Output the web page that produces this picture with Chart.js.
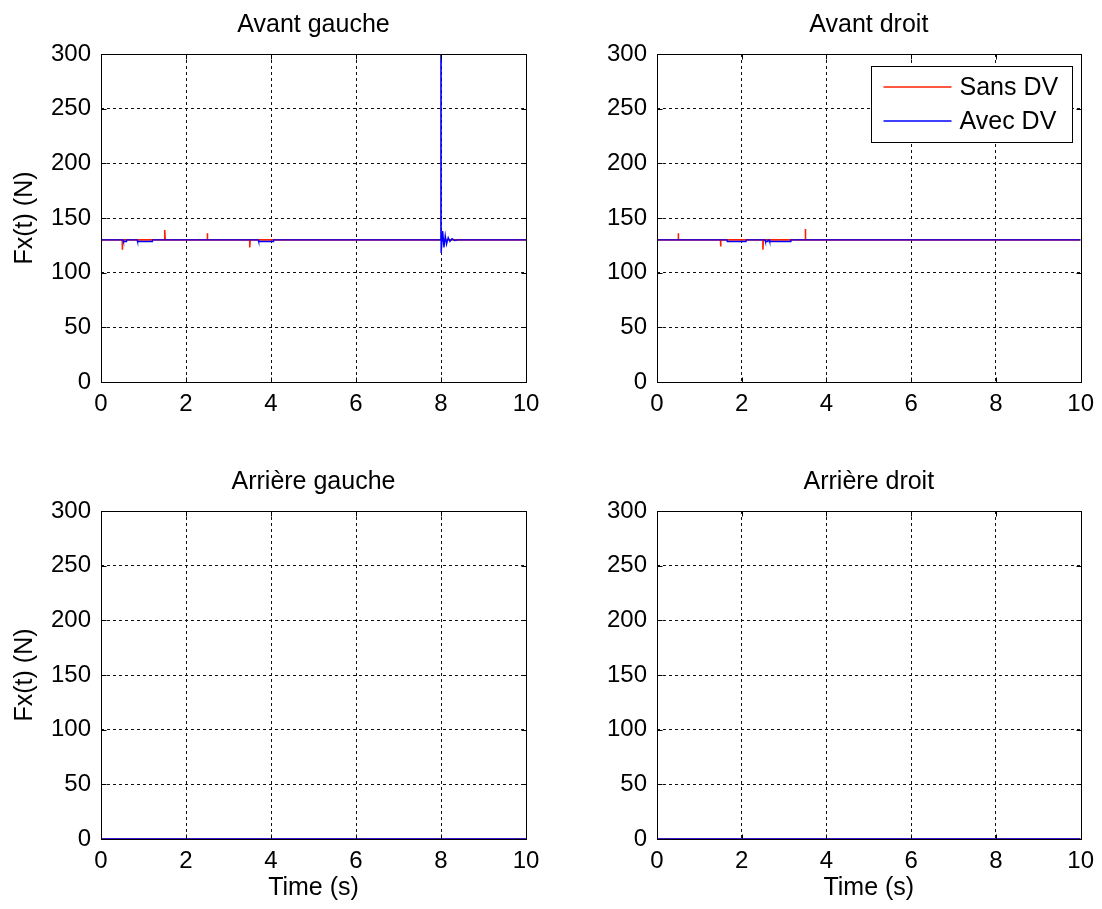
<!DOCTYPE html>
<html>
<head>
<meta charset="utf-8">
<script src="https://cdn.jsdelivr.net/npm/chart.js@4.4.1/dist/chart.umd.min.js"></script>
<style>
  html, body { margin: 0; padding: 0; background: #fff; }
  .panel { position: absolute; }
</style>
</head>
<body>
<div class="panel" style="left:0;top:0"><canvas id="avantGauche" width="551" height="454"></canvas></div>
<div class="panel" style="left:551px;top:0"><canvas id="avantDroit" width="551" height="454"></canvas></div>
<div class="panel" style="left:0;top:454px"><canvas id="arriereGauche" width="551" height="455"></canvas></div>
<div class="panel" style="left:551px;top:454px"><canvas id="arriereDroit" width="551" height="455"></canvas></div>
<script>
// axis ticks
const timeTicks = [0, 2, 4, 6, 8, 10];
const forceTicks = [0, 50, 100, 150, 200, 250, 300];
const seriesLabels = ["Sans DV", "Avec DV"];

// Avant gauche
const agSansT = [0, 0.5, 0.5, 0.51, 1.5, 1.5, 1.51, 2.5, 2.5, 2.51, 3.5, 3.5, 3.51, 10];
const agSansF = [130, 130, 121, 130, 130, 139, 130, 130, 136, 130, 130, 123, 130, 130];
const agAvecT = [0, 0.52, 0.53, 0.59, 0.6, 0.85, 0.86, 1.2, 1.21, 3.7, 3.71, 4.05, 4.06, 7.997, 8.0, 8.003, 8.04, 8.07, 8.1, 8.13, 8.17, 8.21, 8.26, 8.32, 8.4, 10];
const agAvecF = [130, 130, 128.5, 128.5, 130, 130, 128.5, 128.5, 130, 130, 128.5, 128.5, 130, 130, 1000, 118, 138, 123, 134, 126, 132, 128.5, 131, 129.5, 130, 130];

// Avant droit
const adSansT = [0, 0.5, 0.5, 0.51, 1.5, 1.5, 1.51, 2.5, 2.5, 2.51, 3.5, 3.5, 3.51, 10];
const adSansF = [130, 130, 136, 130, 130, 124, 130, 130, 121, 130, 130, 140, 130, 130];
const adAvecT = [0, 1.65, 1.66, 2.1, 2.11, 2.55, 2.56, 2.61, 2.62, 2.65, 2.66, 3.15, 3.16, 10];
const adAvecF = [130, 130, 128.5, 128.5, 130, 130, 128.5, 128.5, 130, 130, 128.5, 128.5, 130, 130];

// Arrière gauche / Arrière droit
const arSansT = [0, 10];
const arSansF = [0, 0];
const arAvecT = [0, 10];
const arAvecF = [0, 0];

const FONT = "'Liberation Sans', Arial, sans-serif";
const seriesColors = ["#ff2000", "#0000ff"];

function points(t, f) {
  return t.map((x, i) => ({ x, y: f[i] }));
}

// hide the grid line on the box edges, the frame plugin draws those solid
function gridColor(ctx) {
  const v = ctx.tick && ctx.tick.value;
  const s = ctx.scale;
  if (v === s.min || v === s.max) return "rgba(0,0,0,0)";
  return "#111";
}

// MATLAB style box with inward tick marks
const framePlugin = {
  id: "frame",
  afterDatasetsDraw(chart) {
    const { ctx, chartArea: a, scales } = chart;
    const L = Math.round(a.left) + 0.5, R = Math.round(a.right) + 0.5;
    const T = Math.round(a.top) + 0.5, B = Math.round(a.bottom) + 0.5;
    ctx.save();
    ctx.strokeStyle = "#000";
    ctx.lineWidth = 1;
    ctx.setLineDash([]);
    ctx.strokeRect(L, T, R - L, B - T);
    ctx.beginPath();
    scales.x.ticks.forEach((t) => {
      const px = Math.round(scales.x.getPixelForValue(t.value)) + 0.5;
      ctx.moveTo(px, B); ctx.lineTo(px, B - 5);
      ctx.moveTo(px, T); ctx.lineTo(px, T + 5);
    });
    scales.y.ticks.forEach((t) => {
      const py = Math.round(scales.y.getPixelForValue(t.value)) + 0.5;
      ctx.moveTo(L, py); ctx.lineTo(L + 5, py);
      ctx.moveTo(R, py); ctx.lineTo(R - 5, py);
    });
    ctx.stroke();
    ctx.restore();
  },
};

// boxed legend inside the top right corner
const boxLegendPlugin = {
  id: "boxLegend",
  afterDraw(chart, args, opts) {
    if (!opts.show) return;
    const { ctx, chartArea: a } = chart;
    const w = 201, h = 76;
    const left = Math.round(a.right - 9 - w) + 0.5;
    const top = Math.round(a.top + 12) + 0.5;
    ctx.save();
    ctx.setLineDash([]);
    ctx.fillStyle = "#fff";
    ctx.fillRect(left, top, w, h);
    ctx.strokeStyle = "#000";
    ctx.lineWidth = 1;
    ctx.strokeRect(left, top, w, h);
    ctx.font = "25px " + FONT;
    ctx.textBaseline = "middle";
    seriesLabels.forEach((label, i) => {
      const y = Math.round(top + 20 + i * 34);
      ctx.strokeStyle = seriesColors[i];
      ctx.lineWidth = 1.5;
      ctx.beginPath();
      ctx.moveTo(left + 12, y);
      ctx.lineTo(left + 80, y);
      ctx.stroke();
      ctx.fillStyle = "#000";
      ctx.fillText(label, left + 88, y + 1);
    });
    ctx.restore();
  },
};

function makePanel(id, title, sansT, sansF, avecT, avecF, o) {
  return new Chart(document.getElementById(id), {
    type: "line",
    data: {
      datasets: [
        { label: seriesLabels[0], data: points(sansT, sansF), borderColor: seriesColors[0], borderWidth: 1.6, pointRadius: 0, tension: 0, order: 1 },
        { label: seriesLabels[1], data: points(avecT, avecF), borderColor: seriesColors[1], borderWidth: 1.4, pointRadius: 0, tension: 0, order: 0 },
      ],
    },
    options: {
      responsive: false,
      animation: false,
      layout: { padding: { left: 0, right: o.padRight, top: 0, bottom: 0 } },
      plugins: {
        legend: { display: false },
        tooltip: { enabled: false },
        title: {
          display: true,
          fullSize: false,
          text: title,
          color: "#000",
          font: { family: FONT, size: 25, weight: "normal" },
          padding: { top: o.titleTop, bottom: o.titleBottom },
        },
        boxLegend: { show: !!o.legend },
      },
      scales: {
        x: {
          type: "linear",
          min: 0,
          max: 10,
          afterFit: (s) => { s.height = o.xHeight; },
          afterBuildTicks: (s) => { s.ticks = timeTicks.map((v) => ({ value: v })); },
          ticks: { color: "#000", font: { family: FONT, size: 24 }, padding: 8, maxRotation: 0 },
          grid: { color: gridColor, drawTicks: false, lineWidth: 1 },
          border: { display: false, dash: [3, 3] },
          title: {
            display: !!o.xTitle,
            text: "Time (s)",
            color: "#000",
            font: { family: FONT, size: 25 },
            padding: { top: 0, bottom: 6 },
          },
        },
        y: {
          min: 0,
          max: 300,
          afterFit: (s) => { s.width = o.yWidth; },
          afterBuildTicks: (s) => { s.ticks = forceTicks.map((v) => ({ value: v })); },
          ticks: { color: "#000", font: { family: FONT, size: 24 }, padding: 10 },
          grid: { color: gridColor, drawTicks: false, lineWidth: 1 },
          border: { display: false, dash: [3, 3] },
          title: {
            display: !!o.yTitle,
            text: "Fx(t) (N)",
            color: "#000",
            font: { family: FONT, size: 25 },
            padding: { top: 10, bottom: 0 },
          },
        },
      },
    },
    plugins: [framePlugin, boxLegendPlugin],
  });
}

makePanel("avantGauche", "Avant gauche", agSansT, agSansF, agAvecT, agAvecF,
  { yWidth: 101, padRight: 25, xHeight: 72, titleTop: 10, titleBottom: 14, yTitle: true });
makePanel("avantDroit", "Avant droit", adSansT, adSansF, adAvecT, adAvecF,
  { yWidth: 106, padRight: 20, xHeight: 72, titleTop: 10, titleBottom: 14, legend: true });
makePanel("arriereGauche", "Arrière gauche", arSansT, arSansF, arAvecT, arAvecF,
  { yWidth: 101, padRight: 25, xHeight: 70, titleTop: 13, titleBottom: 14, yTitle: true, xTitle: true });
makePanel("arriereDroit", "Arrière droit", arSansT, arSansF, arAvecT, arAvecF,
  { yWidth: 106, padRight: 20, xHeight: 70, titleTop: 13, titleBottom: 14, xTitle: true });
</script>
</body>
</html>
